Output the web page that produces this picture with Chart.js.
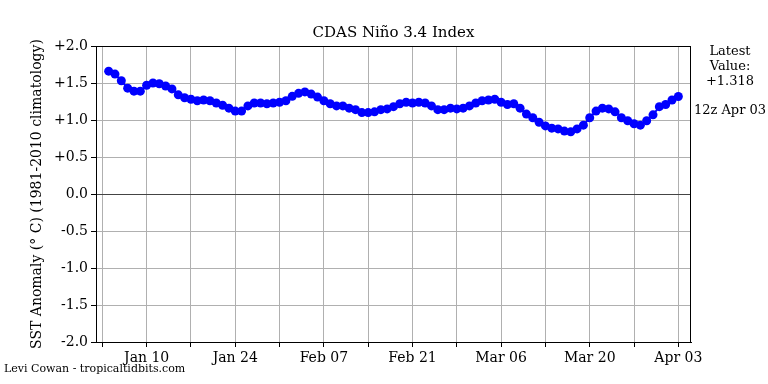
<!DOCTYPE html>
<html>
<head>
<meta charset="utf-8">
<script src="https://cdn.jsdelivr.net/npm/chart.js@4"></script>
<style>
  body { margin: 0; background: #fff; }
  canvas { display: block; }
</style>
</head>
<body>
<canvas id="ninoChart" width="768" height="384"></canvas>
<script>
// daily values, Jan 04 .. Apr 03 (day 1 .. 91, day 0 = Jan 03)
const anomaly = [
  1.66, 1.62, 1.53, 1.43, 1.39, 1.39, 1.47, 1.50, 1.49, 1.46,
  1.42, 1.34, 1.30, 1.28, 1.26, 1.27, 1.26, 1.23, 1.20, 1.16,
  1.12, 1.12, 1.19, 1.23, 1.23, 1.22, 1.23, 1.24, 1.26, 1.32,
  1.36, 1.38, 1.35, 1.31, 1.26, 1.22, 1.19, 1.19, 1.16, 1.14,
  1.10, 1.10, 1.11, 1.14, 1.15, 1.18, 1.22, 1.24, 1.23, 1.24,
  1.23, 1.19, 1.14, 1.14, 1.16, 1.15, 1.16, 1.19, 1.23, 1.26,
  1.27, 1.28, 1.24, 1.21, 1.22, 1.16, 1.08, 1.03, 0.97, 0.92,
  0.89, 0.88, 0.85, 0.84, 0.88, 0.93, 1.03, 1.12, 1.16, 1.15,
  1.11, 1.03, 0.99, 0.95, 0.93, 0.99, 1.07, 1.18, 1.21, 1.27,
  1.318
];
const tickDays = [0, 7, 14, 21, 28, 35, 42, 49, 56, 63, 70, 77, 84, 91];
const labelDays = [7, 21, 35, 49, 63, 77, 91];
const tickLabels = ['Jan 10', 'Jan 24', 'Feb 07', 'Feb 21', 'Mar 06', 'Mar 20', 'Apr 03'];
const latestValue = '+1.318';
const latestTime = '12z Apr 03';

const serif = '"DejaVu Serif", serif';

const points = anomaly.map((v, i) => ({ x: i + 1, y: v }));

const textPlugin = {
  id: 'texts',
  afterDraw(chart) {
    const { ctx, chartArea } = chart;
    ctx.save();
    // frame
    ctx.strokeStyle = '#000';
    ctx.lineWidth = 1;
    ctx.strokeRect(chartArea.left + 0.5, chartArea.top + 0.5,
      chartArea.right - chartArea.left - 1, chartArea.bottom - chartArea.top);

    ctx.fillStyle = '#000';
    ctx.textAlign = 'center';
    ctx.textBaseline = 'middle';
    ctx.font = '15px ' + serif;
    ctx.fillText('CDAS Niño 3.4 Index', (chartArea.left + chartArea.right) / 2, 33);

    ctx.font = '13px ' + serif;
    ctx.fillText('Latest', 730, 52);
    ctx.fillText('Value:', 730, 67);
    ctx.fillText(latestValue, 730, 82);
    ctx.fillText(latestTime, 730, 111);

    ctx.font = '11px ' + serif;
    ctx.textAlign = 'left';
    ctx.fillText('Levi Cowan - tropicaltidbits.com', 4, 369);

    ctx.translate(37, (chartArea.top + chartArea.bottom) / 2);
    ctx.rotate(-Math.PI / 2);
    ctx.textAlign = 'center';
    ctx.font = '14px ' + serif;
    ctx.fillText('SST Anomaly (° C) (1981-2010 climatology)', 0, 0);
    ctx.restore();
  }
};

new Chart(document.getElementById('ninoChart').getContext('2d'), {
  type: 'line',
  data: {
    datasets: [{
      data: points,
      borderColor: '#0000ff',
      backgroundColor: '#0000ff',
      borderWidth: 2,
      pointRadius: 4.5,
      pointBorderWidth: 0,
      tension: 0
    }]
  },
  options: {
    responsive: false,
    animation: false,
    layout: { padding: { top: 46, right: 77, left: 0, bottom: 0 } },
    plugins: { legend: { display: false }, tooltip: { enabled: false } },
    scales: {
      x: {
        type: 'linear',
        min: -1,
        max: 93,
        afterBuildTicks: scale => { scale.ticks = tickDays.map(v => ({ value: v })); },
        afterFit: scale => { scale.height = 42; },
        grid: { color: '#b0b0b0', tickColor: '#000', tickLength: 5 },
        border: { color: '#000' },
        ticks: {
          autoSkip: false,
          maxRotation: 0,
          padding: 3,
          color: '#000',
          font: { family: serif, size: 14 },
          callback: v => {
            const k = labelDays.indexOf(v);
            return k >= 0 ? tickLabels[k] : '';
          }
        }
      },
      y: {
        min: -2,
        max: 2,
        afterFit: scale => { scale.width = 96; },
        grid: {
          color: ctx => ctx.tick && ctx.tick.value === 0 ? '#444' : '#b0b0b0',
          tickColor: '#000',
          tickLength: 5
        },
        border: { color: '#000' },
        ticks: {
          stepSize: 0.5,
          padding: 3,
          color: '#000',
          font: { family: serif, size: 14 },
          callback: v => (v > 0 ? '+' : '') + v.toFixed(1)
        }
      }
    }
  },
  plugins: [textPlugin]
});
</script>
</body>
</html>
